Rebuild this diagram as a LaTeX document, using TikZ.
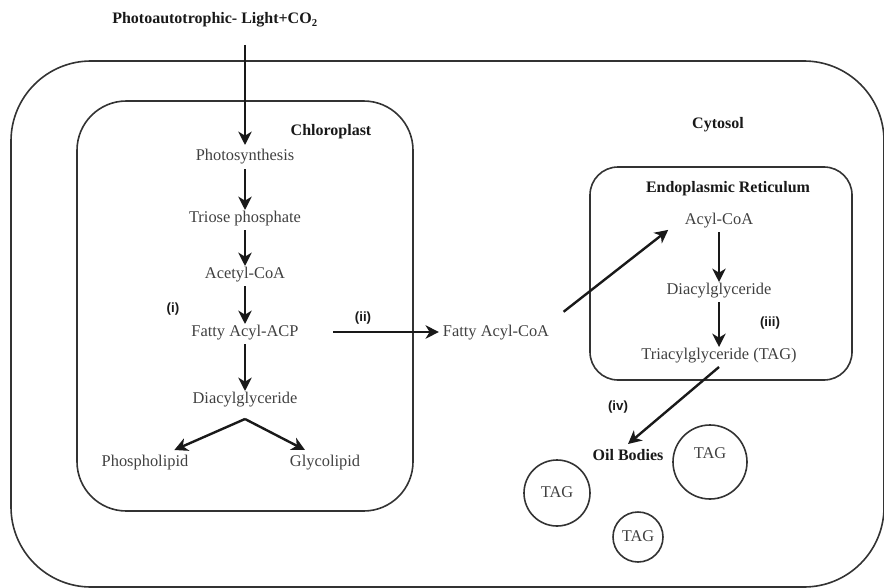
\documentclass[tikz,border=0pt]{standalone}
\usepackage{fontspec}
\setmainfont{Liberation Serif}
\newfontfamily\stepfont{Liberation Sans}
\usepackage{tikz}
\usetikzlibrary{arrows.meta, calc, positioning}
\tikzset{
   flow/.style={-{Stealth[length=10pt,width=10pt,inset=3pt]}, line width=1.8pt,
      draw=black!90},
   compartment/.style={draw=black!80, line width=1.2pt},
   roman/.style={font=\stepfont\bfseries\fontsize{10}{12}\selectfont, text=black!90},
   heading/.style={font=\bfseries\fontsize{12}{14}\selectfont, text=black!90},
   body/.style={circle, draw=black!80, line width=1.2pt, inner sep=0},
}

\begin{document}
\begin{tikzpicture}[x=0.75pt, y=-0.75pt,
   every node/.style={inner sep=3pt, outer sep=0, text=black!75,
      font=\fontsize{12.3}{14}\selectfont, text height=9pt, text depth=3pt}]
   \useasboundingbox (0,0) rectangle (884,588);

   % cell, chloroplast and ER
   \draw[compartment, rounded corners=60pt] (11,61) rectangle (884,587);
   \draw[compartment, rounded corners=37pt] (77,101) rectangle (413,511);
   \draw[compartment, rounded corners=21pt] (590,167) rectangle (852,380);

   \node[heading] (title) at (215,20) {Photoautotrophic- Light+CO\textsubscript{2}};
   \coordinate (light) at (245,45);
   \node[heading] (chloro) at (331,132) {Chloroplast};
   \node[heading] (cytosol) at (718,125) {Cytosol};
   \node[heading] (er) at (728,188) {Endoplasmic Reticulum};

   \node (photo) at (245,157) {Photosynthesis};
   \node (triose) at (245,218) {Triose phosphate};
   \node (acetyl) at (245,274) {Acetyl-CoA};
   \node (acp) at (245,332) {Fatty Acyl-ACP};
   \node (dagc) at (245,399) {Diacylglyceride};
   \coordinate (apex) at ([yshift=-6pt]dagc.south);
   \node (phos) at (145,462) {Phospholipid};
   \node (glyco) at (325,462) {Glycolipid};

   \node (facoa) at (496,332) {Fatty Acyl-CoA};
   \node (acoa) at (719,220) {Acyl-CoA};
   \node (dager) at (719,290) {Diacylglyceride};
   \node (tag) at (719,355) {Triacylglyceride (TAG)};
   \node[heading] (oil) at (628,456) {Oil Bodies};

   \node[roman] (i) at (173,308) {(i)};
   \node[roman] (ii) at (363,317) {(ii)};
   \node[roman] (iii) at (770,322) {(iii)};
   \node[roman] (iv) at (618,406) {(iv)};

   \node[body, minimum size=55.5pt] (tag1) at (710,462) {};
   \node[yshift=6pt] (tagtext1) at (tag1) {TAG};
   \node[body, minimum size=49.5pt] (tag2) at (557,493) {TAG};
   \node[body, minimum size=37.5pt] (tag3) at (638,537) {TAG};

   \draw[flow] (light) -- (photo);
   \draw[flow, shorten >=-3pt] (photo) -- (triose);
   \draw[flow, shorten >=-3pt] (triose) -- (acetyl);
   \draw[flow, shorten >=-3pt] (acetyl) -- (acp);
   \draw[flow, shorten >=-3pt] (acp) -- (dagc);
   \draw[flow] (apex) -- ([xshift=22pt]phos.north);
   \draw[flow] (apex) -- ([xshift=-15pt]glyco.north);

   \draw[flow, shorten <=23pt] (acp) -- (facoa);
   \draw[flow, shorten <=10pt, shorten >=12pt] (facoa.north east) -- (acoa.west);
   \draw[flow, shorten >=-3pt] (acoa) -- (dager);
   \draw[flow, shorten >=-3pt] (dager) -- (tag);
   \draw[flow] (tag.south) -- (oil.north);
\end{tikzpicture}
\end{document}
